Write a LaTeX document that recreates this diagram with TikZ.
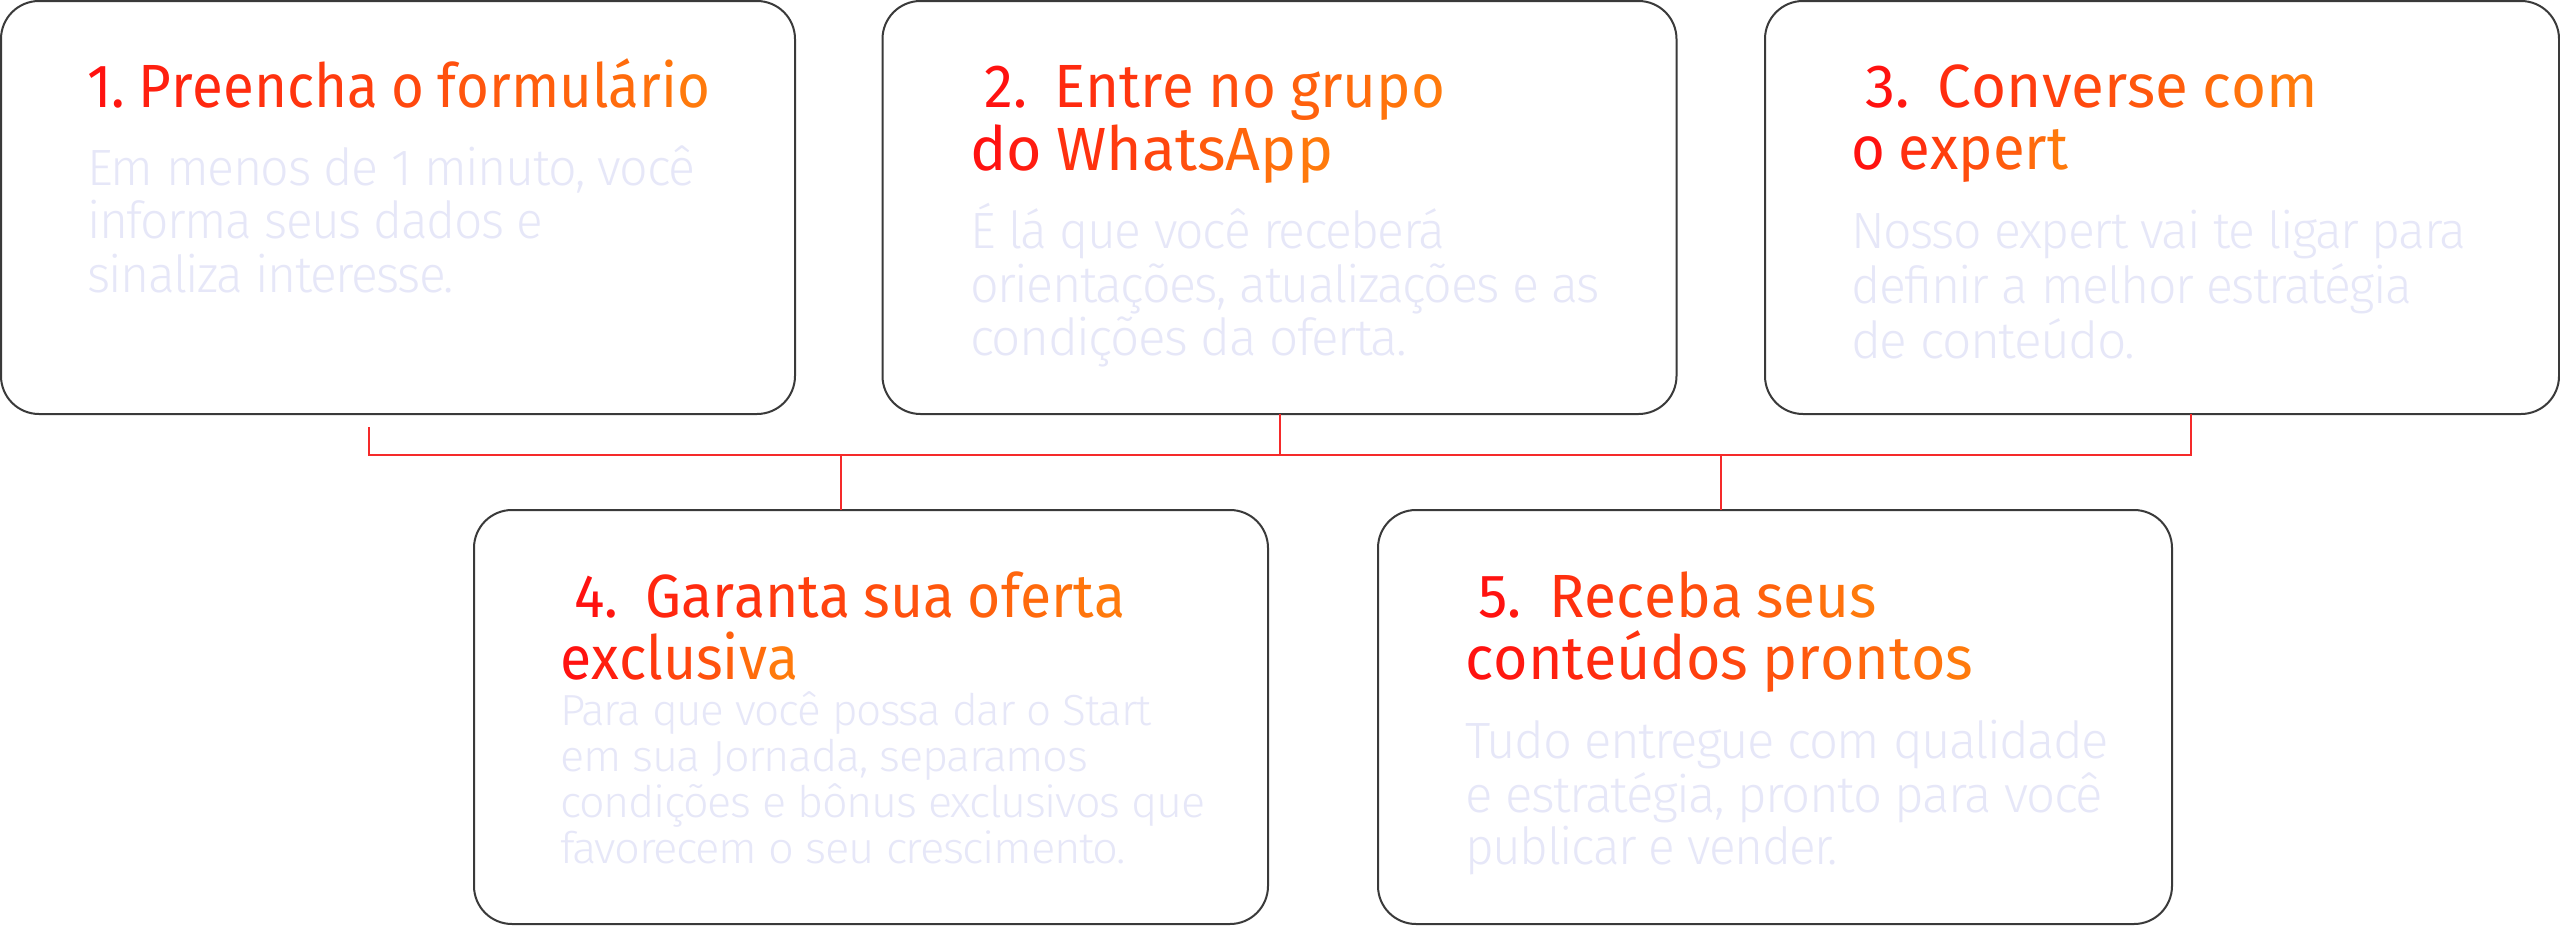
\documentclass[tikz,border=0pt]{standalone}
\usepackage{fontspec}
\usepackage{graphicx}
\setmainfont{Fira Sans}
\newfontfamily\titlefont{Fira Sans}[LetterSpace=-3]
\newfontfamily\bodyfont{Fira Sans Light}[LetterSpace=-3]
\definecolor{gRed}{HTML}{FF1210}
\definecolor{gOrange}{HTML}{FF7A0C}
\definecolor{bodycol}{HTML}{E6E7F8}
\definecolor{linecol}{HTML}{F52A2A}
\definecolor{boxcol}{HTML}{3A3A3A}
\makeatletter
\newcount\gr@n \newcount\gr@i
\def\gr@end{\gr@end@}
\def\gr@count#1{\ifx#1\gr@end\else\advance\gr@n by 1 \expandafter\gr@count\fi}
\def\gr@color#1{\ifx#1\gr@end\else
  \pgfmathtruncatemacro\gr@p{100*\gr@i/max(\gr@n-1,1)}%
  \textcolor{gOrange!\gr@p!gRed}{#1}\advance\gr@i by 1 \expandafter\gr@color\fi}
\newcommand\gradline[1]{\gr@n=0 \gr@count#1\gr@end\gr@i=0 \gr@color#1\gr@end}
\makeatother
\newlength\fitw
\newcommand\fitto[2]{\settowidth\fitw{#2}\pgfmathsetmacro\fitsx{#1/\fitw}\scalebox{\fitsx}[1]{#2}}
\tikzset{
  boxnode/.style={draw=boxcol, line width=2pt, rounded corners=38pt, minimum width=794pt, minimum height=413pt, inner sep=0pt, outer sep=0pt},
  ttl/.style={anchor=base west, inner sep=0pt, font=\titlefont\fontsize{61}{61}\selectfont},
  bdy/.style={anchor=base west, inner sep=0pt, text=bodycol, font=\bodyfont\fontsize{51}{51}\selectfont},
  bdys/.style={anchor=base west, inner sep=0pt, text=bodycol, font=\bodyfont\fontsize{43.5}{43.5}\selectfont},
  conn/.style={draw=linecol, line width=2pt},
}
\begin{document}
\begin{tikzpicture}[x=1pt,y=-1pt]
\fill[white] (0,0) rectangle (2560,926);
\useasboundingbox (0,0) rectangle (2560,926);
% boxes
\node[boxnode] (b1) at (398,207.5) {};
\node[boxnode] (b2) at (1279.5,207.5) {};
\node[boxnode] (b3) at (2162,207.5) {};
\node[boxnode, minimum height=414pt] (b4) at (871,717) {};
\node[boxnode, minimum height=414pt] (b5) at (1775,717) {};
% connectors
\coordinate (c0) at (369,427);
\coordinate (j3) at (2191,455);
\coordinate (j4) at (841,455);
\coordinate (j5) at (1721,455);
\draw[conn] (c0) |- (j3) -- (j3 |- b3.south);
\draw[conn] (b2.south) -- (b2.south |- j3);
\draw[conn] (j4) -- (j4 |- b4.north);
\draw[conn] (j5) -- (j5 |- b5.north);
% box 1
\node[ttl] (t1a) at (87,107) {\fitto{623}{\gradline{1.~Preencha~o~formulário}}};
\node[bdy] (p1a) at (87,185) {\fitto{608}{Em menos de 1 minuto, você}};
\node[bdy] (p1b) at (87,238) {\fitto{456}{informa seus dados e}};
\node[bdy] (p1c) at (87,292) {\fitto{367}{sinaliza interesse.}};
% box 2
\node[ttl] (t2a) at (984,107) {\fitto{461}{\gradline{2.~~Entre~no~grupo}}};
\node[ttl] (t2b) at (970,170) {\fitto{363}{\gradline{do~WhatsApp}}};
\node[bdy] (p2a) at (970,248) {\fitto{475}{É lá que você receberá}};
\node[bdy] (p2b) at (970,302) {\fitto{630}{orientações, atualizações e as}};
\node[bdy] (p2c) at (970,355) {\fitto{437}{condições da oferta.}};
% box 3
\node[ttl] (t3a) at (1865,107) {\fitto{453}{\gradline{3.~~Converse~com}}};
\node[ttl] (t3b) at (1851,169) {\fitto{217}{\gradline{o~expert}}};
\node[bdy] (p3a) at (1851,248) {\fitto{615}{Nosso expert vai te ligar para}};
\node[bdy] (p3b) at (1851,303) {\fitto{561}{definir a melhor estratégia}};
\node[bdy] (p3c) at (1851,358) {\fitto{284}{de conteúdo.}};
% box 4
\node[ttl] (t4a) at (574,617) {\fitto{551}{\gradline{4.~~Garanta~sua~oferta}}};
\node[ttl] (t4b) at (560,679) {\fitto{238}{\gradline{exclusiva}}};
\node[bdys] (p4a) at (560,725) {\fitto{591}{Para que você possa dar o Start}};
\node[bdys] (p4b) at (560,771) {\fitto{528}{em sua Jornada, separamos}};
\node[bdys] (p4c) at (560,817) {\fitto{645}{condições e bônus exclusivos que}};
\node[bdys] (p4d) at (560,863) {\fitto{566}{favorecem o seu crescimento.}};
% box 5
\node[ttl] (t5a) at (1478,617) {\fitto{399}{\gradline{5.~~Receba~seus}}};
\node[ttl] (t5b) at (1465,679) {\fitto{508}{\gradline{conteúdos~prontos}}};
\node[bdy] (p5a) at (1465,758) {\fitto{644}{Tudo entregue com qualidade}};
\node[bdy] (p5b) at (1465,812) {\fitto{638}{e estratégia, pronto para você}};
\node[bdy] (p5c) at (1465,864) {\fitto{373}{publicar e vender.}};
\end{tikzpicture}
\end{document}
